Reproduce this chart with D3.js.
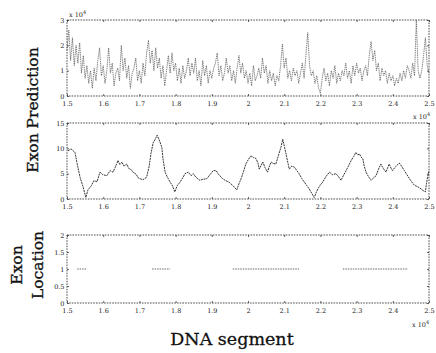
<!DOCTYPE html>
<html><head><meta charset="utf-8">
<script src="https://cdn.jsdelivr.net/npm/d3@7"></script>
<style>body{margin:0;background:#fff}</style>
</head><body>
<svg id="c" width="436" height="353"></svg>
<script>
// ---- data ----
const xTicks = [1.5,1.6,1.7,1.8,1.9,2.0,2.1,2.2,2.3,2.4,2.5];
const xTickLabels = ["1.5","1.6","1.7","1.8","1.9","2","2.1","2.2","2.3","2.4","2.5"];
const predTicks = [0,1,2,3];
const scoreTicks = [0,5,10,15];
const locTicks = [0,0.5,1,1.5,2];
const locTickLabels = ["0","0.5","1","1.5","2"];

// Exon prediction signal (top panel), evenly spaced samples over 1.5..2.5
const predValues = [
1.8,2.6,1.4,2.3,1.2,2.0, 1.3,2.1,0.9,1.6,0.7, 1.2,0.5,1.0,0.3,1.1,0.6,1.4,
1.9,0.8,1.2,0.5,1.0, 1.9,0.9,1.3,0.4,0.9, 1.1,0.6,2.0,1.0,1.5,0.7,
1.2,0.3,0.9,1.1,1.5,0.6, 1.0,0.5,1.3,0.8,1.7,2.2, 1.3,1.8,1.0,1.9,1.1,1.5,
0.7,1.2,0.4,1.0,1.6,0.9, 1.7,1.0,1.3,0.6,1.1,0.5, 1.2,0.7,1.0,1.5,0.8,1.3,
0.9,1.5,0.6,1.0,0.4,1.4, 0.8,1.2,0.5,1.0,0.7,1.1, 1.3,1.7,0.8,1.2,0.6,0.9,
1.5,0.9,1.2,0.6,1.0,0.5, 1.1,1.6,0.9,1.3,0.7,1.0, 0.5,0.9,0.4,1.2,0.6,0.8,
1.1,0.7,1.5,0.9,1.2,0.5, 1.0,0.6,0.9,0.4,0.8,0.6, 1.2,2.05,1.1,1.5,0.7,1.0,
0.6,1.1,0.8,1.0,0.5,0.9, 1.3,0.7,1.6,2.5,1.2,0.8, 1.0,0.5,0.8,0.3,0.1,0.7,
1.1,0.6,0.9,0.4,1.0,0.7, 1.2,0.5,0.9,0.6,1.0,0.8, 1.3,0.7,1.0,0.5,1.2,0.8,
1.3,0.9,1.1,0.6,1.0,1.2, 0.8,1.6,2.15,1.4,1.8,1.0, 1.3,0.6,1.1,0.8,1.0,0.5,
0.9,0.6,0.8,0.4,0.7,0.5, 0.9,0.6,1.0,0.7,1.2,1.0, 0.7,1.3,0.8,3.0,1.0,0.7,
1.0,1.6,2.3,1.2,0.9
];

// Smoothed score (middle panel)
const scoreX = [1.503,1.511,1.522,1.528,1.536,1.544,1.552,1.558,1.568,1.574,1.583,1.591,1.599,1.610,1.619,1.627,1.633,1.641,1.646,1.652,1.657,1.665,1.671,1.677,1.682,1.691,1.696,1.702,1.710,1.720,1.727,1.732,1.738,1.743,1.749,1.754,1.762,1.765,1.771,1.776,1.785,1.790,1.798,1.804,1.812,1.820,1.826,1.835,1.843,1.849,1.856,1.867,1.876,1.886,1.895,1.904,1.912,1.917,1.930,1.939,1.948,1.959,1.969,1.975,1.981,1.988,1.994,2.001,2.008,2.015,2.022,2.028,2.031,2.036,2.041,2.047,2.054,2.058,2.064,2.070,2.077,2.084,2.091,2.096,2.101,2.105,2.110,2.114,2.121,2.128,2.135,2.141,2.149,2.156,2.163,2.169,2.177,2.183,2.188,2.193,2.199,2.206,2.215,2.225,2.233,2.243,2.250,2.257,2.264,2.271,2.278,2.285,2.292,2.298,2.303,2.308,2.312,2.317,2.321,2.326,2.333,2.340,2.347,2.354,2.360,2.367,2.374,2.381,2.386,2.390,2.395,2.399,2.408,2.418,2.425,2.432,2.439,2.446,2.453,2.460,2.469,2.478,2.483,2.490,2.493,2.496,2.500];
const scoreY = [9.5,9.9,9.2,7.0,4.3,2.5,0.3,1.8,2.7,3.6,3.4,5.3,4.8,4.6,5.6,5.3,6.2,7.6,6.8,7.3,6.5,6.9,6.0,5.8,5.3,4.9,4.2,4.0,3.8,4.3,6.5,9.0,11.1,11.7,12.6,11.8,10.2,8.0,5.3,4.5,3.3,2.8,1.4,2.6,3.3,4.2,5.0,5.3,4.6,5.0,4.3,3.7,3.9,4.0,4.8,5.6,5.6,5.0,4.0,3.6,3.3,2.6,1.8,3.0,4.0,5.5,6.9,7.8,8.5,8.2,8.0,7.0,5.9,6.6,7.3,6.2,5.3,6.3,7.3,7.0,6.9,8.6,10.2,11.8,10.2,8.9,7.2,5.9,6.5,6.3,5.6,5.0,4.0,3.3,2.6,2.0,1.0,0.3,1.2,2.0,2.7,3.3,4.4,5.3,4.8,5.0,4.4,3.7,4.7,5.6,6.6,7.6,8.4,9.2,8.7,8.9,8.3,8.0,6.5,5.3,4.4,3.7,4.2,4.6,5.8,6.9,6.0,5.3,6.2,6.9,6.1,5.6,6.4,7.1,6.4,5.6,4.8,4.0,3.3,2.7,2.4,2.0,1.7,1.4,3.0,4.3,5.6];

// Exon locations (bottom panel): level 1 between start and end
const exonStart = [1.528,1.735,1.958,2.262];
const exonEnd   = [1.555,1.785,2.141,2.442];
const exonLevel = [1,1,1,1];

// ---- layout ----
const svg = d3.select("#c");
const L = 67, R = 429;
const panels = [
  {top:20, bottom:96, domain:[0,3], ticks:predTicks, labels:predTicks.map(String)},
  {top:123, bottom:199, domain:[0,15], ticks:scoreTicks, labels:scoreTicks.map(String)},
  {top:235, bottom:303, domain:[0,2], ticks:locTicks, labels:locTickLabels}
];
const x = d3.scaleLinear().domain([1.5,2.5]).range([L,R]);
const ink = "#3a3a3a";
const tickFont = "DejaVu Serif";

panels.forEach((p,i)=>{
  p.y = d3.scaleLinear().domain(p.domain).range([p.bottom,p.top]);
  const g = svg.append("g");
  g.append("rect").attr("x",L).attr("y",p.top).attr("width",R-L).attr("height",p.bottom-p.top)
    .attr("fill","none").attr("stroke",ink).attr("stroke-width",0.9).attr("stroke-dasharray","1.6,1.1");
  g.append("g").attr("transform",`translate(0,${p.bottom})`)
    .call(d3.axisBottom(x).tickValues(xTicks).tickFormat((d,k)=>xTickLabels[k]).tickSize(-2).tickPadding(5.4));
  g.append("g").attr("transform",`translate(0,${p.top})`)
    .call(d3.axisTop(x).tickValues(xTicks).tickFormat("").tickSize(-2));
  g.append("g").attr("transform",`translate(${L},0)`)
    .call(d3.axisLeft(p.y).tickValues(p.ticks).tickFormat((d,k)=>p.labels[k]).tickSize(-2).tickPadding(2.5));
  g.append("g").attr("transform",`translate(${R},0)`)
    .call(d3.axisRight(p.y).tickValues(p.ticks).tickFormat("").tickSize(-2));
  g.selectAll(".domain").remove();
  g.selectAll(".tick line").attr("stroke",ink).attr("stroke-width",0.8);
  g.selectAll(".tick text").attr("font-family",tickFont).attr("font-size",6.5).attr("fill","#222");
});

// top series
const xi = d3.scaleLinear().domain([0,predValues.length-1]).range([1.5,2.5]);
svg.append("path").datum(predValues)
  .attr("d", d3.line().x((d,k)=>x(xi(k))).y(d=>panels[0].y(d)))
  .attr("fill","none").attr("stroke","#4a4a4a").attr("stroke-width",0.7)
  .attr("stroke-dasharray","1.4,0.8");

// middle series
svg.append("path").datum(scoreX.map((d,k)=>[d,scoreY[k]]))
  .attr("d", d3.line().x(d=>x(d[0])).y(d=>panels[1].y(d[1])))
  .attr("fill","none").attr("stroke","#1e1e1e").attr("stroke-width",0.9)
  .attr("stroke-dasharray","2,0.8");

// bottom segments
svg.append("g").selectAll("line").data(exonStart).join("line")
  .attr("x1",(d)=>x(d)).attr("x2",(d,k)=>x(exonEnd[k]))
  .attr("y1",(d,k)=>panels[2].y(exonLevel[k])).attr("y2",(d,k)=>panels[2].y(exonLevel[k]))
  .attr("stroke","#444").attr("stroke-width",0.8).attr("stroke-dasharray","1.5,1");

// exponent labels
function expo(xp,yp,e){
  const t = svg.append("text").attr("x",xp).attr("y",yp).attr("font-family",tickFont)
    .attr("font-size",6.5).attr("fill","#222");
  t.append("tspan").text("x 10");
  t.append("tspan").attr("dy",-3).attr("font-size",5).text(e);
}
expo(69,17,"4");
expo(413,119,"4");
expo(412,327,"4");

// axis titles
const titleFont = "DejaVu Serif";
svg.append("text").attr("transform","translate(38,110) rotate(-90)")
  .attr("text-anchor","middle").attr("font-family",titleFont).attr("font-size",15.5)
  .attr("fill","#111").attr("stroke","#111").attr("stroke-width",0.35).text("Exon Prediction");
svg.append("text").attr("transform","translate(22,265) rotate(-90)")
  .attr("text-anchor","middle").attr("font-family",titleFont).attr("font-size",15.5)
  .attr("fill","#111").attr("stroke","#111").attr("stroke-width",0.35).text("Exon");
svg.append("text").attr("transform","translate(43,265) rotate(-90)")
  .attr("text-anchor","middle").attr("font-family",titleFont).attr("font-size",15.5)
  .attr("fill","#111").attr("stroke","#111").attr("stroke-width",0.35).text("Location");
svg.append("text").attr("x",232).attr("y",345)
  .attr("text-anchor","middle").attr("font-family",titleFont).attr("font-size",17.5)
  .attr("fill","#111").attr("stroke","#111").attr("stroke-width",0.3).text("DNA segment");
</script>
</body></html>
